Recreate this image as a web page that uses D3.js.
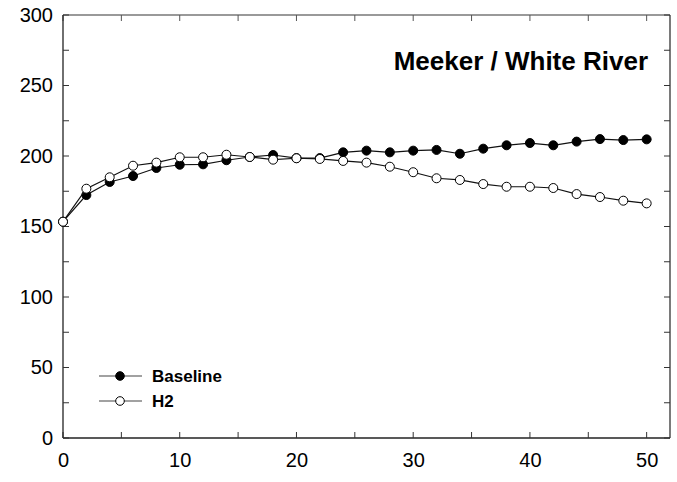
<!DOCTYPE html>
<html><head><meta charset="utf-8">
<script src="https://cdn.jsdelivr.net/npm/d3@7"></script>
<style>body{margin:0;background:#fff}svg{display:block}text{font-family:Arial,"Liberation Sans",sans-serif}</style>
</head><body>
<svg id="c" width="677" height="482"></svg>
<script>
const years = [0,2,4,6,8,10,12,14,16,18,20,22,24,26,28,30,32,34,36,38,40,42,44,46,48,50];
const baseline = [153.4,172.3,181.6,185.8,191.5,193.8,194.1,197,199.3,200.7,198.5,198.5,202.6,203.8,202.6,203.8,204.3,201.6,205.2,207.6,209.2,207.6,210.2,212,211.3,211.8];
const h2 = [153.4,176.8,184.9,193.1,195.3,199.1,199.1,200.9,199.3,197.4,198.4,197.9,196.5,195.3,192.4,188.5,184.2,183,180.1,178.2,178.2,177.3,173,170.9,168.3,166.4];
const xTicks = [0,10,20,30,40,50];
const yTicks = [0,50,100,150,200,250,300];
const seriesNames = ["Baseline","H2"];
const title = "Meeker / White River";

const svg = d3.select("#c");
const L=63, R=670, T=15, B=438;
const x = d3.scaleLinear().domain([0,52]).range([L,R]);
const y = d3.scaleLinear().domain([0,300]).range([B,T]);

// frame
svg.append("line").attr("x1",L).attr("x2",R).attr("y1",T).attr("y2",T).attr("stroke","#777").attr("stroke-width",1.3);
svg.append("line").attr("x1",R).attr("x2",R).attr("y1",T).attr("y2",B).attr("stroke","#333").attr("stroke-width",1.3);

const minorX = d3.range(0,51,5), minorY = d3.range(0,301,25);
// bottom axis
const gx = svg.append("g").attr("transform",`translate(0,${B})`)
  .call(d3.axisBottom(x).tickValues(xTicks).tickSize(0).tickPadding(15).tickFormat(d3.format("d")));
gx.select(".domain").attr("stroke","#222").attr("stroke-width",1.3).attr("d",`M${L},0H${R}`);
gx.selectAll("text").attr("font-size",20).attr("fill","#000");
gx.selectAll(".mt").data(minorX).enter().append("line").attr("x1",d=>x(d)).attr("x2",d=>x(d)).attr("y1",0).attr("y2",-6).attr("stroke","#333");
// top ticks
svg.append("g").selectAll("line").data(minorX).enter().append("line").attr("x1",d=>x(d)).attr("x2",d=>x(d)).attr("y1",T).attr("y2",T+6).attr("stroke","#555");
// left axis
const gy = svg.append("g").attr("transform",`translate(${L},0)`)
  .call(d3.axisLeft(y).tickValues(yTicks).tickSize(0).tickPadding(10).tickFormat(d3.format("d")));
gy.select(".domain").attr("stroke","#222").attr("stroke-width",1.3).attr("d",`M0,${T}V${B}`);
gy.selectAll("text").attr("font-size",20).attr("fill","#000");
gy.selectAll(".mt").data(minorY).enter().append("line").attr("x1",0).attr("x2",6).attr("y1",d=>y(d)).attr("y2",d=>y(d)).attr("stroke","#333");
// right ticks
svg.append("g").selectAll("line").data(minorY).enter().append("line").attr("x1",R).attr("x2",R-6).attr("y1",d=>y(d)).attr("y2",d=>y(d)).attr("stroke","#333");

const line = d3.line().x(d=>x(d[0])).y(d=>y(d[1]));
const series = [
  {name:seriesNames[0], vals:baseline, fill:"#000"},
  {name:seriesNames[1], vals:h2, fill:"#fff"}
];
series.forEach(s=>{
  const pts = years.map((yr,i)=>[yr,s.vals[i]]);
  svg.append("path").attr("d",line(pts)).attr("fill","none").attr("stroke","#111").attr("stroke-width",1.2);
  svg.append("g").selectAll("circle").data(pts).enter().append("circle")
    .attr("cx",d=>x(d[0])).attr("cy",d=>y(d[1])).attr("r",4.5)
    .attr("fill",s.fill).attr("stroke","#000").attr("stroke-width",1);
});

// legend
series.forEach((s,i)=>{
  const ly = 376 + i*25;
  svg.append("line").attr("x1",99).attr("x2",142).attr("y1",ly).attr("y2",ly).attr("stroke","#444").attr("stroke-width",1.2);
  svg.append("circle").attr("cx",120).attr("cy",ly).attr("r",4.3).attr("fill",s.fill).attr("stroke","#000");
  svg.append("text").attr("x",152).attr("y",ly).attr("dy","0.36em").attr("font-size",17).attr("font-weight","bold").text(s.name);
});

svg.append("text").attr("x",648).attr("y",61).attr("dy","0.36em").attr("text-anchor","end")
  .attr("font-size",26).attr("font-weight","bold").text(title);
</script>
</body></html>
